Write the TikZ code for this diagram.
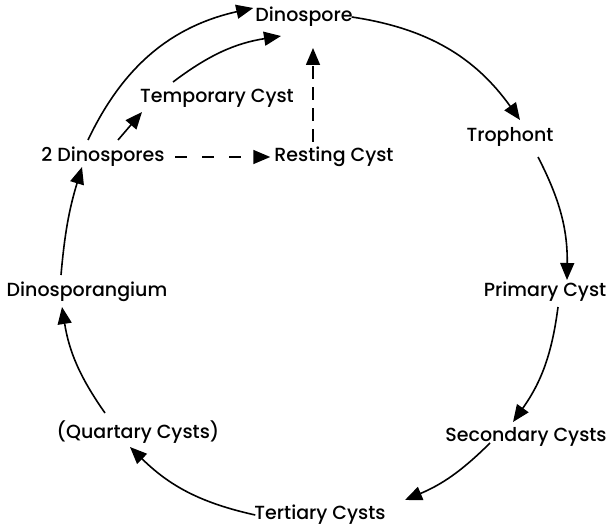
\documentclass[tikz,border=0pt]{standalone}
\usepackage{fontspec}
\setmainfont{Poppins}[UprightFont={* Medium}]
\usetikzlibrary{arrows.meta}
\tikzset{
  lbl/.style={inner sep=0pt, font=\fontsize{19}{21}\selectfont},
  arr/.style={line width=1.6pt, -{Triangle[length=17pt,width=14pt]}},
  dsh/.style={arr, dash pattern=on 12pt off 15pt}
}
\begin{document}
\begin{tikzpicture}[x=1pt,y=1pt]
\useasboundingbox (0,0) rectangle (609,531);
\node[lbl] (dsp) at (304,514) {Dinospore};
\node[lbl] (tro) at (510,394) {Trophont};
\node[lbl] (pri) at (545,239) {Primary Cyst};
\node[lbl] (sec) at (526,94) {Secondary Cysts};
\node[lbl] (ter) at (320,16) {Tertiary Cysts};
\node[lbl] (qua) at (138,99) {(Quartary Cysts)};
\node[lbl] (dsg) at (87,239) {Dinosporangium};
\node[lbl] (two) at (103,374) {2 Dinospores};
\node[lbl] (tmp) at (217,433) {Temporary Cyst};
\node[lbl] (rst) at (334,374) {Resting Cyst};

\draw[arr] ([shift={(-15,17)}]two.center) to[bend left=26] ([shift={(-2,9)}]dsp.west);
\draw[arr] ([shift={(15,17)}]two.center) to ([shift={(-75,-14)}]tmp.center);
\draw[arr] ([shift={(-44,16)}]tmp.center) to[bend left=14] ([shift={(-23,-19)}]dsp.center);
\draw[dsh] ([shift={(72,0)}]two.center) -- ([shift={(-4,0)}]rst.west);
\draw[dsh, dash pattern=on 13pt off 8pt] ([shift={(-21,15)}]rst.center) -- ([shift={(9,-31)}]dsp.center);
\draw[arr] ([shift={(-1,0)}]dsp.east) to[bend left=23] ([shift={(10,17)}]tro.center);
\draw[arr] ([shift={(28,-20)}]tro.center) to[bend left=14] ([shift={(22,12)}]pri.center);
\draw[arr] ([shift={(13,-15)}]pri.center) to[bend left=14] ([shift={(-13,15)}]sec.center);
\draw[arr] ([shift={(-36,-6)}]sec.center) to[bend left=11] ([shift={(85,15)}]ter.center);
\draw[arr] ([shift={(1,0)}]ter.west) to[bend left=16] ([shift={(-8,-15)}]qua.center);
\draw[arr] ([shift={(-33,19)}]qua.center) to[bend left=13] ([shift={(-25,-15)}]dsg.center);
\draw[arr] ([shift={(-26,17)}]dsg.center) to[bend left=6] ([shift={(-21,-10)}]two.center);
\end{tikzpicture}
\end{document}
